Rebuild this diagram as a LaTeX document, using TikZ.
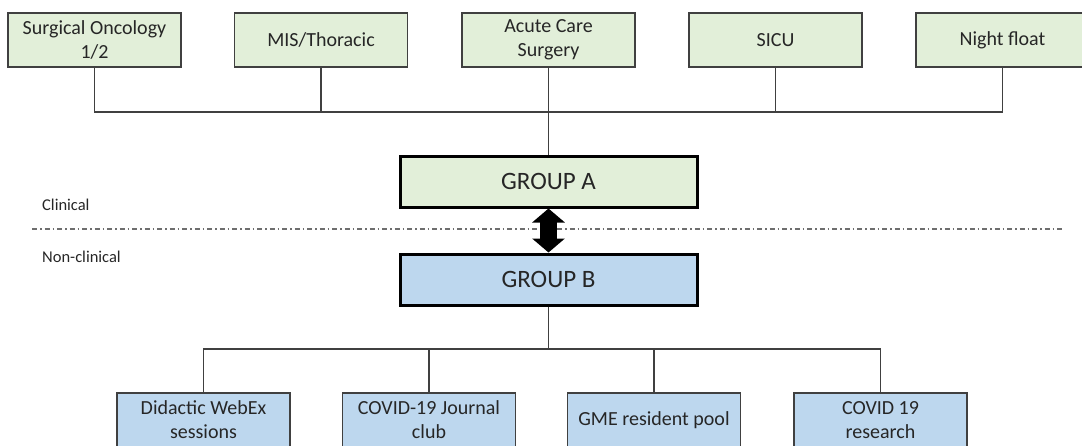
\documentclass[tikz,border=0pt]{standalone}
\usepackage{fontspec}
\setmainfont{Carlito}
\usetikzlibrary{arrows.meta}
\definecolor{clinfill}{HTML}{E2EFD9}
\definecolor{nonfill}{HTML}{BDD7EE}
\definecolor{edge}{HTML}{404040}
\definecolor{sep}{HTML}{6E6E6E}
\tikzset{
  unit/.style={draw=edge, line width=1.3pt, minimum width=173pt, minimum height=54pt,
    inner sep=0pt, align=center, font=\fontsize{20}{24}\selectfont, text=black!85},
  clinbox/.style={unit, fill=clinfill},
  nonbox/.style={unit, fill=nonfill},
  groupbox/.style={draw=black, line width=3pt, minimum width=297pt, minimum height=51pt,
    inner sep=0pt, font=\fontsize{25}{30}\selectfont, text=black!85},
  wire/.style={draw=edge, line width=1.3pt},
  sidelabel/.style={anchor=west, inner sep=0pt, font=\fontsize{16.5}{20}\selectfont, text=black!85},
  divider/.style={draw=sep, line width=1.3pt, dash pattern=on 5pt off 3pt on 1.5pt off 3pt},
  swap/.style={line width=17pt, {Triangle[width=32pt,length=14pt]}-{Triangle[width=32pt,length=14pt]}}
}
\begin{document}
\begin{tikzpicture}[x=1pt, y=-1pt]
\useasboundingbox (0,0) rectangle (1082,445);
\clip (0,0) rectangle (1082,445);

% clinical rotations
\node[clinbox] (s1) at (94.5,40) {Surgical Oncology\\1/2};
\node[clinbox] (s2) at (321,40) {MIS/Thoracic};
\node[clinbox] (s3) at (548.5,40) {Acute Care\\Surgery};
\node[clinbox] (s4) at (775.5,40) {SICU};
\node[clinbox] (s5) at (1002.5,40) {Night float};

% the two groups
\node[groupbox, fill=clinfill] (ga) at (548.5,181.5) {GROUP A};
\node[groupbox, fill=nonfill] (gb) at (548.5,279.5) {GROUP B};

% non-clinical activities
\node[nonbox] (b1) at (203.5,420) {Didactic WebEx\\sessions};
\node[nonbox] (b2) at (429,420) {COVID-19 Journal\\club};
\node[nonbox] (b3) at (654,420) {GME resident pool};
\node[nonbox] (b4) at (880.5,420) {COVID 19\\research};

% top bus
\coordinate (tb) at (548.5,112);
\draw[wire] (s1.south) |- (tb) -| (s5.south);
\draw[wire] (s2.south) -- (s2.south |- tb);
\draw[wire] (s4.south) -- (s4.south |- tb);
\draw[wire] (s3.south) -- (ga.north);

% bottom bus
\coordinate (bb) at (548.5,349);
\draw[wire] (gb.south) -- (bb);
\draw[wire] (b1.north) |- (bb) -| (b4.north);
\draw[wire] (b2.north) -- (b2.north |- bb);
\draw[wire] (b3.north) -- (b3.north |- bb);

% clinical / non-clinical divider
\coordinate (dl) at (32,229);
\coordinate (dr) at (1063,229);
\draw[divider] (dl) -- (dr);
\node[sidelabel] (lc) at (42,205) {Clinical};
\node[sidelabel] (ln) at (42,257) {Non-clinical};

% exchange between groups
\draw[swap] (ga.south) -- (gb.north);
\end{tikzpicture}
\end{document}
